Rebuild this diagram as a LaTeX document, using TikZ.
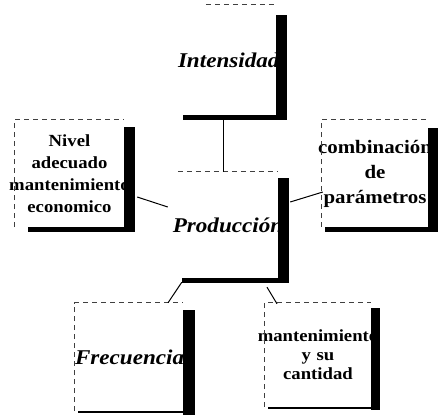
\documentclass[tikz,border=0pt]{standalone}
\usepackage{fontspec}
\setmainfont{Liberation Serif}[FakeStretch=1.1]
\begin{document}
\begin{tikzpicture}[x=1pt,y=-1pt,
  boxtext/.style={inner sep=0pt, align=center, font=\bfseries\fontsize{17}{22}\selectfont},
  itext/.style={inner sep=0pt, align=center, font=\bfseries\itshape\fontsize{21}{24}\selectfont},
  topedge/.style={draw=black!75, line width=0.9pt, dash pattern=on 5pt off 4pt},
  bar/.style={fill=black},
  conn/.style={draw=black, line width=1pt}]
\useasboundingbox (0,0) rectangle (438,415);

% nodes (inner areas)
\node[itext, text width=98pt, minimum height=110pt] (I) at (227,60) {Intensidad};
\node[boxtext, text width=109pt, minimum height=107pt] (N) at (69.5,173.5)
  {Nivel\\adecuado\\\makebox[\linewidth]{mantenimiento}\\economico};
\node[boxtext, font=\bfseries\fontsize{19}{25}\selectfont, text width=106pt, minimum height=107pt] (C) at (375,173.5)
  {\makebox[\linewidth]{combinación}\\de\\\makebox[\linewidth]{parámetros}};
\node[itext, text width=100pt, minimum height=106pt] (P) at (228,225) {\makebox[\linewidth]{Producción}};
\node[itext, text width=108pt, minimum height=108pt] (F) at (129,357) {Frecuencia};
\node[boxtext, font=\bfseries\fontsize{17}{19}\selectfont, text width=106pt, minimum height=104pt] (M) at (318,355)
  {\makebox[\linewidth]{mantenimiento}\\y su\\cantidad};

% dashed top/left edges
\draw[topedge] ([xshift=28pt]I.north west) -- (I.north east);
\draw[topedge] (N.south west) -- (N.north west) -- (N.north east);
\draw[topedge] (C.south west) -- (C.north west) -- (C.north east);
\draw[topedge] (P.north west) -- (P.north east);
\draw[topedge] (F.south west) -- (F.north west) -- (F.north east);
\draw[topedge] (M.south west) -- (M.north west) -- (M.north east);

% thick shadow bars
\fill[bar] ([yshift=-10pt]I.north east) rectangle ([xshift=11pt,yshift=-5pt]I.south east);
\fill[bar] ([xshift=5pt]I.south west) rectangle ([xshift=11pt,yshift=-5pt]I.south east);
\fill[bar] ([yshift=-7pt]N.north east) rectangle ([xshift=11pt,yshift=-5pt]N.south east);
\fill[bar] ([xshift=13pt]N.south west) rectangle ([xshift=11pt,yshift=-5pt]N.south east);
\fill[bar] ([yshift=-8pt]C.north east) rectangle ([xshift=10pt,yshift=-5pt]C.south east);
\fill[bar] ([xshift=3pt]C.south west) rectangle ([xshift=10pt,yshift=-5pt]C.south east);
\fill[bar] ([yshift=-6pt]P.north east) rectangle ([xshift=11pt,yshift=-5pt]P.south east);
\fill[bar] ([xshift=4pt]P.south west) rectangle ([xshift=11pt,yshift=-5pt]P.south east);
\fill[bar] ([yshift=-7pt]F.north east) rectangle ([xshift=12pt,yshift=-4pt]F.south east);
\fill[bar] ([xshift=3pt]F.south west) rectangle ([xshift=12pt,yshift=-2pt]F.south east);
\fill[bar] ([yshift=-5pt]M.north east) rectangle ([xshift=9pt,yshift=-3pt]M.south east);
\fill[bar] ([xshift=3pt]M.south west) rectangle ([xshift=9pt,yshift=-2pt]M.south east);

% connectors
\draw[conn] ([xshift=-4pt,yshift=-5pt]I.south) -- ([xshift=-5pt]P.north);
\draw[conn] ([xshift=13pt,yshift=-23.5pt]N.east) -- ([xshift=-10pt,yshift=18pt]P.west);
\draw[conn] ([xshift=12pt,yshift=23pt]P.east) -- ([xshift=1pt,yshift=-18.5pt]C.west);
\draw[conn] ([xshift=4pt,yshift=-4pt]P.south west) -- ([xshift=39pt]F.north);
\draw[conn] ([xshift=39pt,yshift=-9pt]P.south) -- ([xshift=-41pt,yshift=-1pt]M.north);
\end{tikzpicture}
\end{document}
